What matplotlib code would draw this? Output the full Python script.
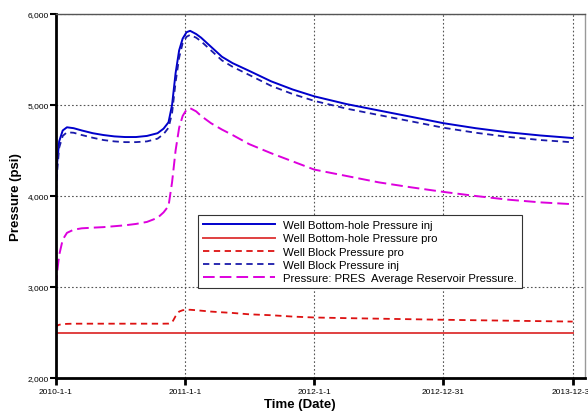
import datetime as dt
import matplotlib
matplotlib.use("Agg")
import matplotlib.pyplot as plt
from matplotlib.ticker import FuncFormatter

plt.rcParams['font.family'] = ['Liberation Sans', 'DejaVu Sans']

# sample dates (shared by every series)
dates = ['2010-01-01', '2010-01-04', '2010-01-10', '2010-01-20', '2010-02-01',
         '2010-02-20', '2010-03-15', '2010-04-15', '2010-05-15', '2010-06-15',
         '2010-07-15', '2010-08-15', '2010-09-15', '2010-10-15', '2010-11-01',
         '2010-11-15', '2010-11-25', '2010-12-05', '2010-12-15', '2010-12-25',
         '2011-01-05', '2011-01-15', '2011-02-01', '2011-02-15', '2011-03-15',
         '2011-04-15', '2011-05-15', '2011-07-01', '2011-09-01', '2011-11-01',
         '2012-01-01', '2012-04-01', '2012-07-01', '2012-10-01', '2012-12-31',
         '2013-04-01', '2013-07-01', '2013-10-01', '2013-12-31']

bhp_inj = [4150, 4350, 4600, 4720, 4755, 4745, 4720, 4690, 4670, 4655,
           4648, 4648, 4660, 4690, 4740, 4810, 5000, 5350, 5600, 5730,
           5800, 5815, 5780, 5740, 5640, 5530, 5460, 5375, 5260, 5170,
           5095, 5010, 4940, 4870, 4800, 4745, 4700, 4665, 4637]

bhp_pro = [2500] * len(dates)

block_pro = [2550, 2575, 2585, 2592, 2595, 2597, 2597, 2597, 2597, 2597,
             2597, 2597, 2597, 2597, 2597, 2598, 2610, 2680, 2730, 2745,
             2750, 2750, 2745, 2740, 2730, 2722, 2715, 2700, 2690, 2675,
             2665, 2658, 2652, 2646, 2640, 2635, 2630, 2625, 2620]

block_inj = [4050, 4250, 4530, 4660, 4700, 4695, 4670, 4640, 4615, 4600,
             4592, 4592, 4600, 4630, 4680, 4750, 4910, 5250, 5520, 5680,
             5750, 5770, 5740, 5700, 5600, 5490, 5420, 5330, 5210, 5120,
             5045, 4960, 4890, 4820, 4750, 4695, 4650, 4615, 4590]

pres_avg = [3000, 3150, 3350, 3520, 3595, 3630, 3645, 3652, 3658, 3668,
            3678, 3693, 3715, 3760, 3820, 3890, 4150, 4500, 4750, 4880,
            4950, 4965, 4930, 4880, 4800, 4730, 4670, 4570, 4470, 4380,
            4290, 4220, 4150, 4095, 4045, 4000, 3960, 3930, 3910]

tick_dates = ['2010-01-01', '2011-01-01', '2012-01-01', '2012-12-31', '2013-12-31']
tick_labels = ['2010-1-1', '2011-1-1', '2012-1-1', '2012-12-31', '2013-12-31']
y_ticks = [2000, 3000, 4000, 5000, 6000]

t = [dt.datetime.strptime(d, '%Y-%m-%d') for d in dates]
tt = [dt.datetime.strptime(d, '%Y-%m-%d') for d in tick_dates]

fig = plt.figure(figsize=(5.88, 4.14), dpi=100)
ax = fig.add_axes([0.0952, 0.0845, 0.8998, 0.8793])

ax.plot(t, bhp_inj, color='#0000cc', lw=1.4, label='Well Bottom-hole Pressure inj')
ax.plot(t, bhp_pro, color='#e04040', lw=1.4, label='Well Bottom-hole Pressure pro')
ax.plot(t, block_pro, color='#dd1111', lw=1.3, dashes=(3.5, 2.5),
        label='Well Block Pressure pro')
ax.plot(t, block_inj, color='#1a1aaa', lw=1.3, dashes=(3.5, 2.5),
        label='Well Block Pressure inj')
ax.plot(t, pres_avg, color='#dd00dd', lw=1.4, dashes=(6, 2.6),
        label='Pressure: PRES  Average Reservoir Pressure.')

ax.set_xlim(dt.datetime(2010, 1, 1), dt.datetime(2014, 2, 4))
ax.set_ylim(2000, 6000)

ax.set_xticks(tt)
ax.set_xticklabels(tick_labels)
ax.set_yticks(y_ticks)
ax.yaxis.set_major_formatter(FuncFormatter(lambda v, p: f'{int(v):,}'))
ax.tick_params(axis='x', direction='out', length=5, width=2, labelsize=6, pad=2)
ax.tick_params(axis='y', direction='out', length=4, width=1.5, labelsize=6, pad=1)

ax.grid(True, color='#555555', lw=0.8, linestyle=(0, (1.5, 2)))

for s in ['left', 'bottom']:
    ax.spines[s].set_linewidth(2)
    ax.spines[s].set_color('black')
ax.spines['top'].set_color('#555555')
ax.spines['top'].set_linewidth(1)
ax.spines['right'].set_color('#999999')
ax.spines['right'].set_linewidth(1)

ax.set_xlabel('Time (Date)', fontsize=9.5, fontweight='bold', labelpad=2)
ax.xaxis.set_label_coords(0.46, -0.055)
ax.set_ylabel('Pressure (psi)', fontsize=9.5, fontweight='bold', labelpad=4)

leg = ax.legend(loc='upper left', bbox_to_anchor=(0.268, 0.447), fontsize=8.2,
                handlelength=6.3, labelspacing=0.27, borderpad=0.45,
                borderaxespad=0, handletextpad=0.7, frameon=True,
                fancybox=False, edgecolor='#333333', framealpha=1)
leg.get_frame().set_linewidth(0.8)

fig.savefig('out.png', dpi=100)
